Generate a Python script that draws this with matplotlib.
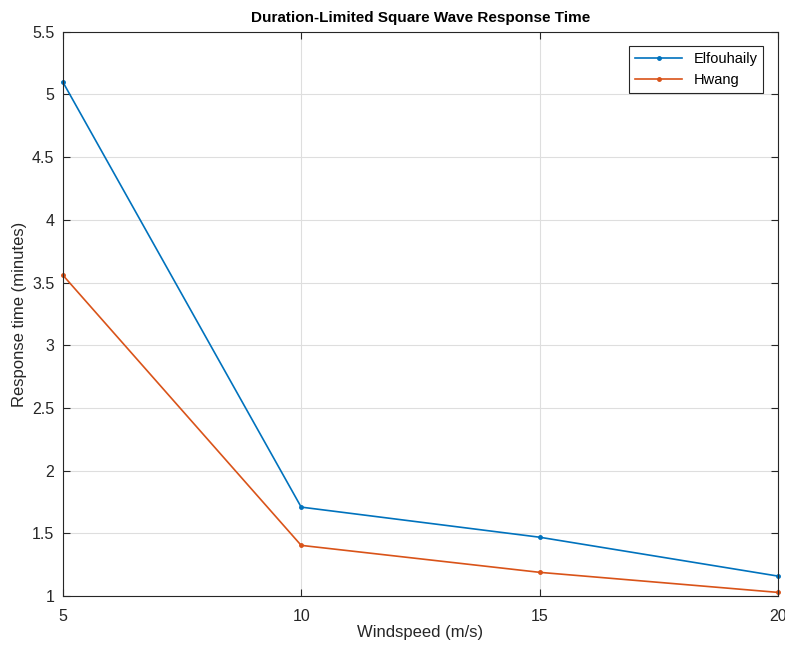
import matplotlib
matplotlib.use("Agg")
import matplotlib.pyplot as plt

plt.rcParams["font.family"] = ["Liberation Sans", "DejaVu Sans"]

windspeed = [5, 10, 15, 20]
elfouhaily = [5.10, 1.71, 1.47, 1.16]
hwang = [3.56, 1.405, 1.19, 1.03]

BLUE = (0.0, 0.447, 0.741)
ORANGE = (0.85, 0.325, 0.098)
DARK = (0.15, 0.15, 0.15)

fig = plt.figure(figsize=(7.85, 6.48), dpi=100)
ax = fig.add_axes([0.080, 0.080, 0.911, 0.871])

ax.plot(windspeed, elfouhaily, color=BLUE, marker=".", markersize=5,
        linewidth=1.2, label="Elfouhaily", clip_on=False)
ax.plot(windspeed, hwang, color=ORANGE, marker=".", markersize=5,
        linewidth=1.2, label="Hwang", clip_on=False)

ax.set_xlim(5, 20)
ax.set_ylim(1, 5.5)
ax.set_xticks([5, 10, 15, 20])
ax.set_yticks([1, 1.5, 2, 2.5, 3, 3.5, 4, 4.5, 5, 5.5])
ax.set_yticklabels(["1", "1.5", "2", "2.5", "3", "3.5", "4", "4.5", "5", "5.5"])

ax.grid(True, color=(0.87, 0.87, 0.87), linewidth=0.8)
ax.set_axisbelow(True)
ax.tick_params(which="both", direction="in", top=True, right=True,
               labelsize=11.5, colors=DARK, length=5)
ax.tick_params(axis="x", pad=9)
ax.tick_params(axis="y", pad=6)
for spine in ax.spines.values():
    spine.set_color(DARK)
    spine.set_linewidth(0.8)

ax.set_xlabel("Windspeed (m/s)", fontsize=12, color=DARK, labelpad=1)
ax.set_ylabel("Response time (minutes)", fontsize=12, color=DARK)
ax.set_title("Duration-Limited Square Wave Response Time", fontsize=11,
             fontweight="bold", pad=7)

leg = ax.legend(loc="upper right", fontsize=10.5, fancybox=False,
                edgecolor=DARK, framealpha=1,
                borderaxespad=1.0, handlelength=3.2)
leg.get_frame().set_linewidth(0.8)

fig.savefig("out.png", dpi=100)
